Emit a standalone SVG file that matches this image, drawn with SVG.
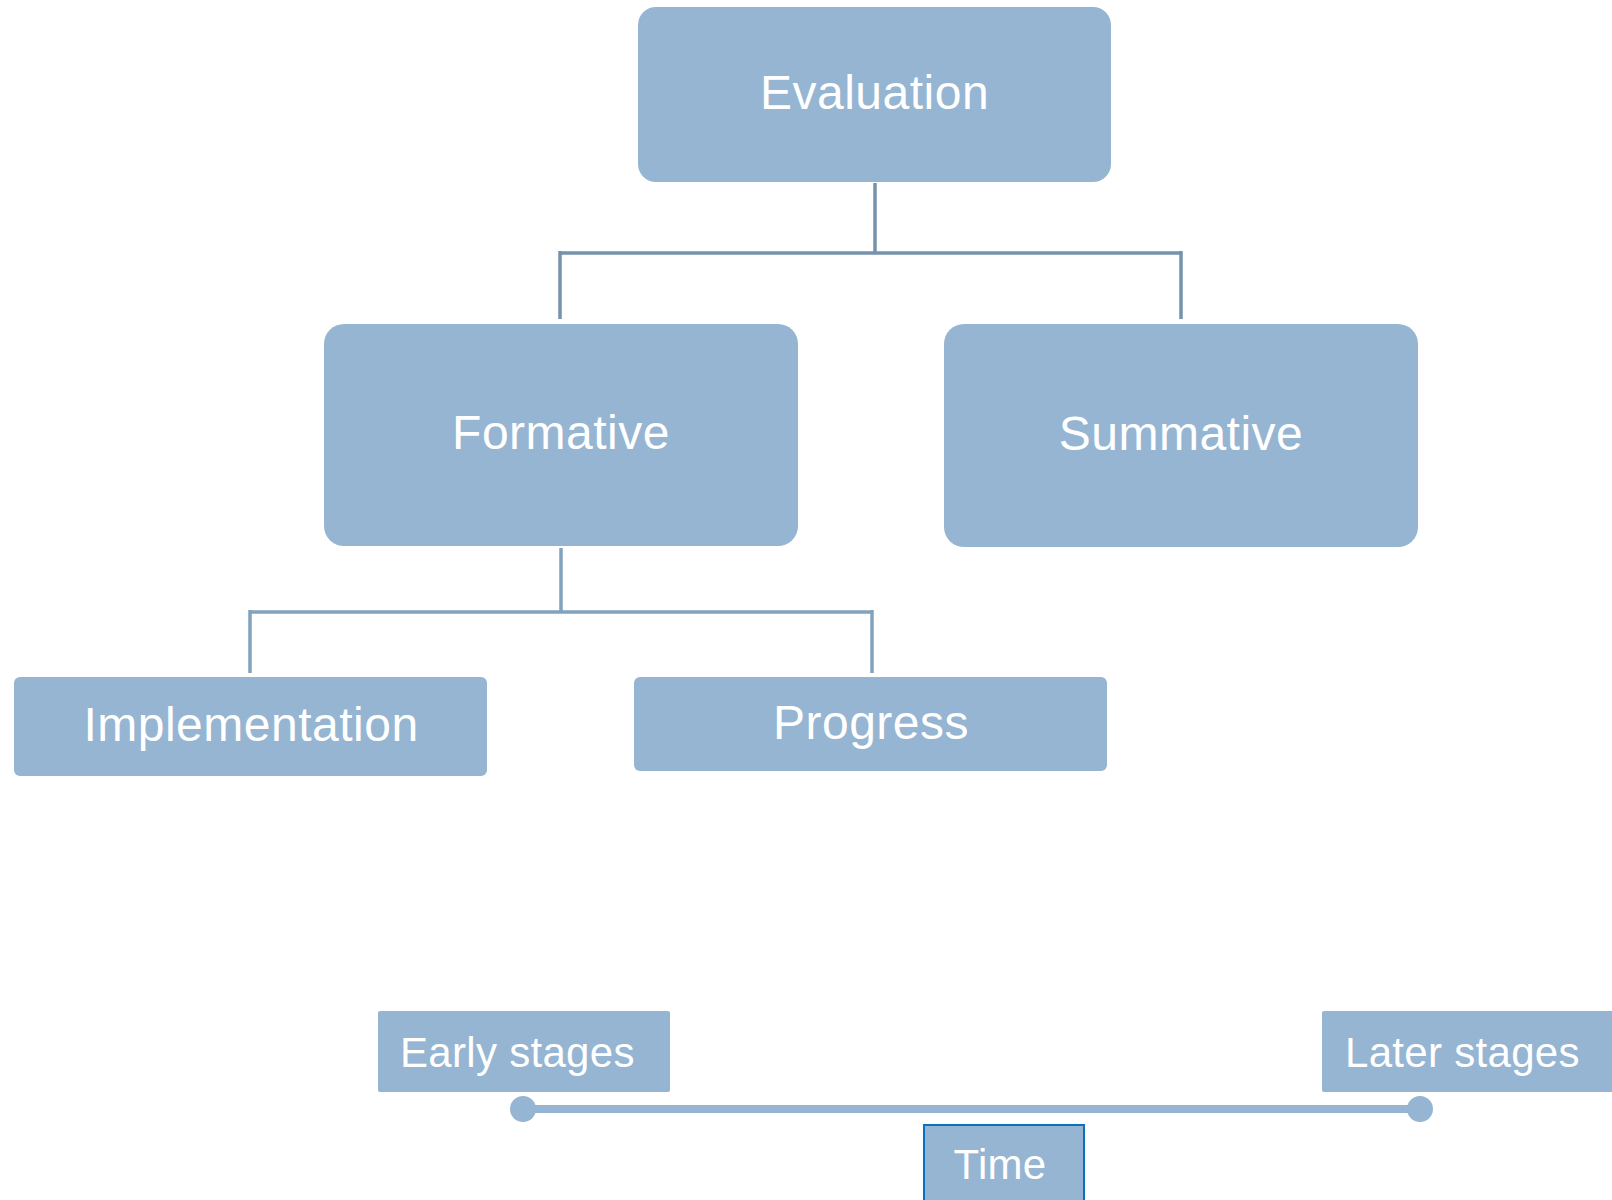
<svg xmlns="http://www.w3.org/2000/svg" width="1612" height="1200" viewBox="0 0 1612 1200">
<style>
.box{fill:#95b5d2}
.lbl{fill:#ffffff;font-family:"Liberation Sans",Arial,sans-serif;text-anchor:middle}
.big{font-size:48px;letter-spacing:0.5px}
.sm{font-size:42px;letter-spacing:0.3px}
.c1{stroke:#7593ab;stroke-width:3.5;fill:none}
.c2{stroke:#83a2bd;stroke-width:3.5;fill:none}
</style>
<rect width="1612" height="1200" fill="#ffffff"/>
<g id="connectors">
<path class="c1" d="M875,183 V253 M560,253 H1181 M560,251 V319 M1181,251 V319"/>
<path class="c2" d="M561,548 V612 M250,612 H872 M250,610 V673 M872,610 V673"/>
<line x1="523" y1="1109" x2="1420" y2="1109" stroke="#95b5d2" stroke-width="8"/>
<circle cx="523" cy="1109" r="13" fill="#95b5d2"/>
<circle cx="1420" cy="1109" r="13" fill="#95b5d2"/>
</g>
<g id="evaluation">
<rect class="box" x="638" y="7" width="473" height="175" rx="18"/>
<text class="lbl big" x="874.5" y="109">Evaluation</text>
</g>
<g id="formative">
<rect class="box" x="324" y="324" width="474" height="222" rx="20"/>
<text class="lbl big" x="561" y="449">Formative</text>
</g>
<g id="summative">
<rect class="box" x="944" y="324" width="474" height="223" rx="20"/>
<text class="lbl big" x="1181" y="450">Summative</text>
</g>
<g id="implementation">
<rect class="box" x="14" y="677" width="473" height="99" rx="6"/>
<text class="lbl big" x="251" y="741">Implementation</text>
</g>
<g id="progress">
<rect class="box" x="634" y="677" width="473" height="94" rx="6"/>
<text class="lbl big" x="871" y="739">Progress</text>
</g>
<g id="early">
<rect class="box" x="378" y="1011" width="292" height="81" rx="2"/>
<text class="lbl sm" x="400" y="1067" style="text-anchor:start">Early stages</text>
</g>
<g id="later">
<rect class="box" x="1322" y="1011" width="292" height="81" rx="2"/>
<text class="lbl sm" x="1345" y="1067" style="text-anchor:start">Later stages</text>
</g>
<g id="time">
<rect class="box" x="924" y="1125" width="160" height="80" stroke="#0a70c0" stroke-width="2"/>
<text class="lbl sm" x="1000" y="1179">Time</text>
</g>
</svg>
